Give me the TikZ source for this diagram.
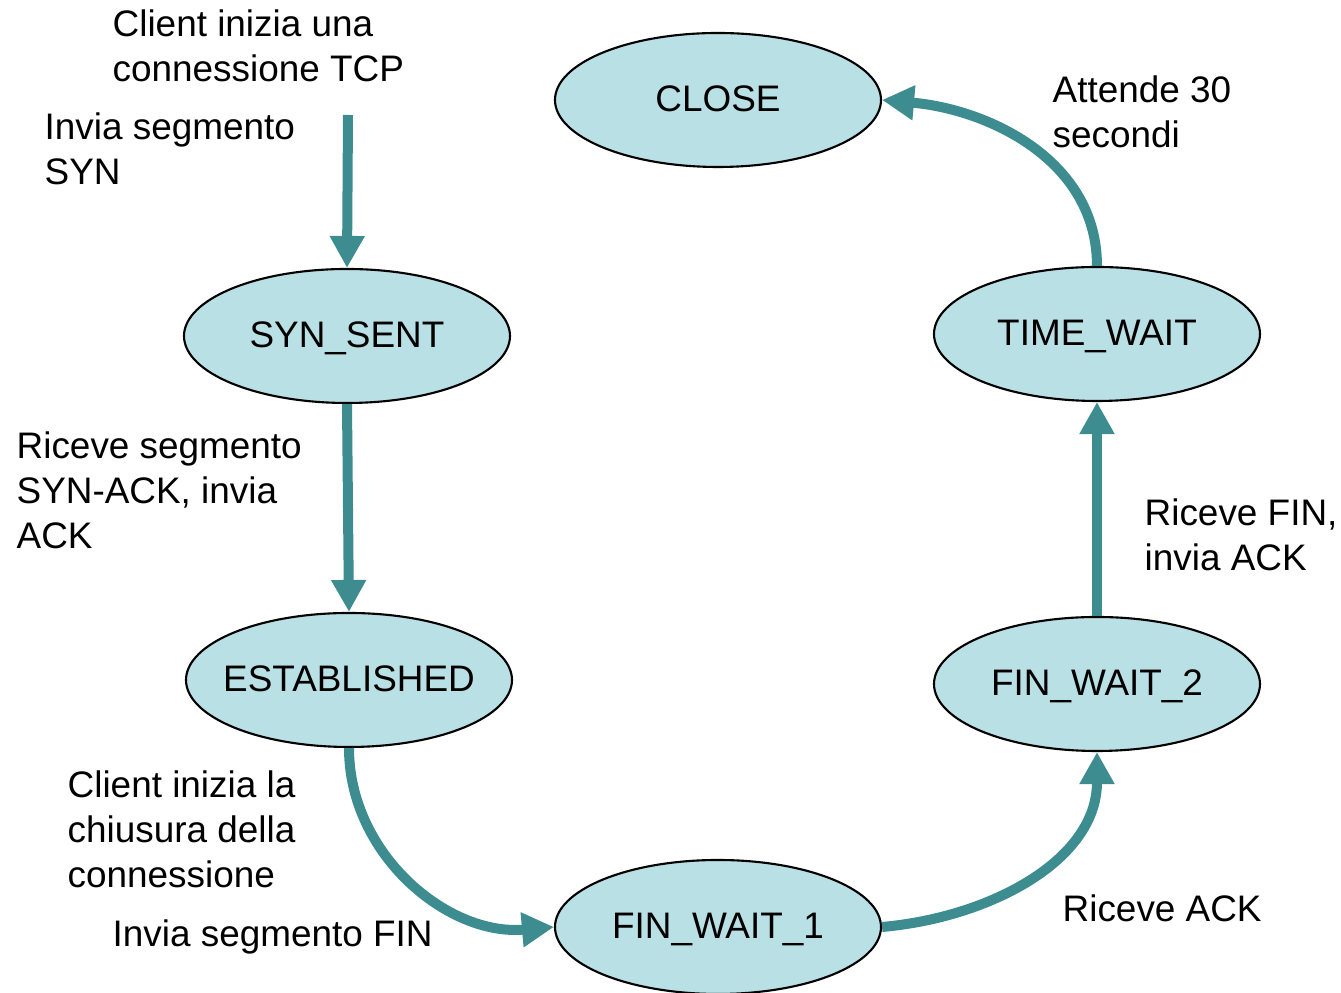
\documentclass[tikz,border=0pt]{standalone}
\usepackage{fontspec}
\setmainfont{Liberation Sans}
\usetikzlibrary{arrows.meta,shapes.geometric}
\definecolor{statefill}{HTML}{B9E0E4}
\definecolor{arrowteal}{HTML}{3C8C90}
\newcommand{\statetext}[1]{\makebox[0pt]{#1}}
\begin{document}
\begin{tikzpicture}[
    state/.style={semithick, shape=ellipse, draw=black, fill=statefill, minimum width=3.26cm, minimum height=1.34cm, inner sep=0pt, text height=0.66em, text depth=0pt, font=\fontsize{10.5}{12.8}\selectfont},
    trans/.style={draw=arrowteal, line width=0.1cm, -{Triangle[length=0.32cm,width=0.33cm]}},
    lbl/.style={anchor=west, align=left, inner sep=0pt, font=\fontsize{10.5}{12.8}\selectfont}
    ]
    \useasboundingbox (0,0) rectangle (13.41,9.93);
    \node[state](close)   at (7.18,8.93)  {\statetext{CLOSE}};
    \node[state](synsent) at (3.47,6.57)  {\statetext{SYN\_SENT}};
    \node[state](estab)   at (3.49,3.13)  {\statetext{ESTABLISHED}};
    \node[state](fin1)    at (7.18,0.66)  {\statetext{FIN\_WAIT\_1}};
    \node[state](fin2)    at (10.97,3.09) {\statetext{FIN\_WAIT\_2}};
    \node[state](timew)   at (10.97,6.59) {\statetext{TIME\_WAIT}};
    \coordinate (start) at (3.48,8.78);

    \draw[trans] (start) -- (synsent.north);
    \draw[trans] (synsent.south) -- (estab.north);
    \draw[trans] (estab.south) to[out=-90, in=185] (fin1.west);
    \draw[trans] (fin1.east) to[out=5, in=-90] (fin2.south);
    \draw[trans] (fin2.north) -- (timew.south);
    \draw[trans] (timew.north) to[out=90, in=-5] (close.east);

    \node[lbl](lstart)  at (1.12,9.47) {Client inizia una\\connessione TCP};
    \node[lbl](lsyn)    at (0.44,8.44) {Invia segmento\\SYN};
    \node[lbl](lsynack) at (0.16,5.03) {Riceve segmento\\SYN-ACK, invia\\ACK};
    \node[lbl](lclose)  at (0.67,1.64) {Client inizia la\\chiusura della\\connessione};
    \node[lbl](lfin)    at (1.12,0.56) {Invia segmento FIN};
    \node[lbl](lack)    at (10.62,0.85) {Riceve ACK};
    \node[lbl](lfinack) at (11.44,4.58) {Riceve FIN,\\invia ACK};
    \node[lbl](lwait)   at (10.52,8.81) {Attende 30\\secondi};
\end{tikzpicture}
\end{document}
